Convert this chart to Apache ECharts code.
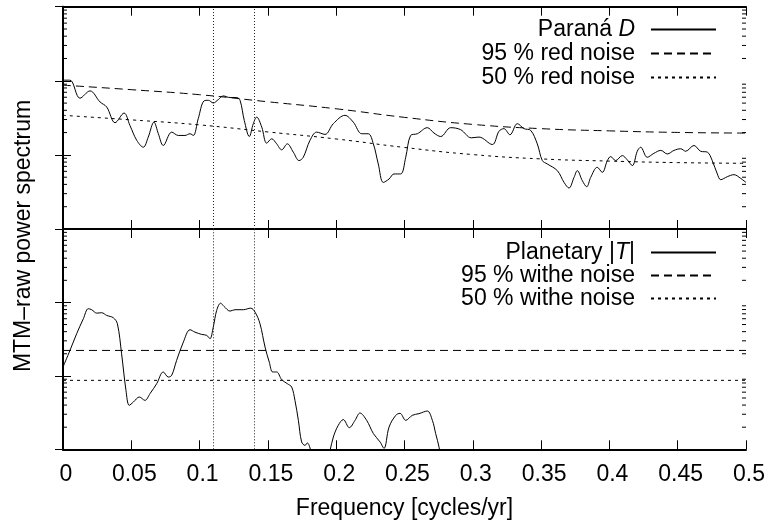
<!DOCTYPE html>
<html>
<head>
<meta charset="utf-8">
<script src="https://cdn.jsdelivr.net/npm/echarts@6/dist/echarts.min.js"></script>
<style>
  html, body { margin: 0; padding: 0; background: #fff; }
  #chart { width: 768px; height: 529px; }
</style>
</head>
<body>
<div id="chart"></div>
<script>
// Paraná D spectrum (top panel)
const paranaFreq = [0, 0.0051, 0.0124, 0.0198, 0.0271, 0.0320, 0.0381, 0.0447, 0.0490, 0.0540,
  0.0588, 0.0624, 0.0666, 0.0698, 0.0734, 0.0796, 0.0844, 0.0893, 0.0930, 0.0954,
  0.0990, 0.1032, 0.1064, 0.1100, 0.1137, 0.1173, 0.1223, 0.1272, 0.1296, 0.1327,
  0.1364, 0.1393, 0.1418, 0.1455, 0.1491, 0.1528, 0.1564, 0.1601, 0.1642, 0.1686,
  0.1728, 0.1759, 0.1808, 0.1857, 0.1918, 0.1979, 0.2064, 0.2125, 0.2187, 0.2235,
  0.2272, 0.2308, 0.2345, 0.2387, 0.2423, 0.2472, 0.2509, 0.2545, 0.2594, 0.2667,
  0.2716, 0.2765, 0.2838, 0.2911, 0.2989, 0.3045, 0.3143, 0.3192, 0.3228, 0.3272,
  0.3326, 0.3375, 0.3424, 0.3472, 0.3509, 0.3545, 0.3619, 0.3668, 0.3704, 0.3741,
  0.3765, 0.3802, 0.3834, 0.3863, 0.3911, 0.3948, 0.3985, 0.4009, 0.4046, 0.4094,
  0.4131, 0.4168, 0.4204, 0.4229, 0.4277, 0.4326, 0.4376, 0.4424, 0.4473, 0.4522,
  0.4558, 0.4619, 0.4668, 0.4717, 0.4753, 0.4790, 0.4815, 0.4863, 0.4912, 0.4961, 0.5]
const paranaPower = [102, 102, 58.2, 73.1, 51.8, 44.3, 27.2, 36.7, 25.0, 15.7,
  12.7, 17.4, 27.7, 19.3, 13.4, 20.3, 18.3, 18.3, 19.3, 18.3,
  30.8, 53.5, 54.6, 50.2, 55.8, 62.5, 59.4, 59.4, 54.6, 29.2,
  17.7, 26.4, 32.4, 23.7, 14.4, 16.5, 14.1, 11.7, 14.1, 10.9,
  8.38, 9.29, 15.7, 20.3, 18.9, 26.4, 34.2, 27.7, 19.3, 19.3,
  14.1, 7.55, 4.25, 4.73, 5.53, 5.53, 9.29, 18.3, 19.3, 23.3,
  19.7, 17.7, 23.3, 21.9, 17.0, 17.4, 13.8, 20.9, 22.6, 18.7,
  26.4, 22.6, 21.4, 14.1, 8.38, 7.55, 6.13, 4.25, 3.57, 4.97,
  6.13, 4.48, 3.72, 4.97, 6.80, 5.81, 8.38, 9.49, 8.38, 9.79,
  8.56, 7.17, 11.2, 12.7, 9.29, 10.5, 11.5, 10.3, 11.5, 12.1,
  11.2, 13.4, 11.2, 10.9, 8.38, 5.53, 4.63, 5.08, 5.41, 4.82, 4.25]

// red noise levels
const redFreq = [0, 0.05, 0.1, 0.15, 0.2, 0.25, 0.3, 0.35, 0.4, 0.45, 0.5]
const red95 = [87.3, 75.9, 64.9, 52.1, 41.9, 32.1, 25.8, 22.6, 21.1, 20.1, 19.7]
const red50 = [34.2, 29.7, 25.4, 20.4, 16.4, 12.6, 10.1, 8.83, 8.25, 7.87, 7.70]

// Planetary |T| spectrum (bottom panel)
const planetFreq = [0, 0.0051, 0.0100, 0.0149, 0.0185, 0.0210, 0.0247, 0.0283, 0.0320, 0.0368,
  0.0398, 0.0429, 0.0461, 0.0485, 0.0515, 0.0559, 0.0600, 0.0637, 0.0686, 0.0734,
  0.0771, 0.0796, 0.0832, 0.0881, 0.0930, 0.0966, 0.1015, 0.1052, 0.1076, 0.1100,
  0.1125, 0.1154, 0.1179, 0.1223, 0.1259, 0.1320, 0.1374, 0.1406, 0.1442, 0.1479,
  0.1510, 0.1535, 0.1564, 0.1601, 0.1642, 0.1674, 0.1698, 0.1723, 0.1747, 0.1772,
  0.1788, 0.1813, 0.1830, 0.1918, 0.1955, 0.1979, 0.2015, 0.2052, 0.2096, 0.2138,
  0.2174, 0.2223, 0.2272, 0.2321, 0.2350, 0.2387, 0.2436, 0.2467, 0.2509, 0.2557,
  0.2606, 0.2667, 0.2704, 0.2728, 0.2753, 0.2775]
const planetPower = [13.2, 22.2, 37.5, 60.0, 82.1, 79.6, 71.5, 72.4, 66.5, 61.9,
  51.3, 20.0, 6.35, 3.97, 4.40, 5.15, 4.64, 5.73, 7.83, 11.3,
  9.63, 10.2, 16.3, 28.8, 42.5, 39.4, 36.7, 35.6, 32.1, 46.1,
  77.9, 97.8, 88.2, 76.2, 79.6, 79.6, 83.6, 73.8, 51.3, 24.7,
  15.4, 11.3, 11.3, 8.88, 7.83, 7.04, 4.64, 2.48, 1.26, 1.13,
  1.22, 0.97, 0.6, 0.6, 0.97, 1.47, 2.12, 2.54, 1.97, 2.48,
  3.12, 2.48, 1.64, 1.26, 1.03, 2.01, 2.90, 3.09, 2.48, 2.90,
  3.06, 3.32, 2.48, 1.64, 1.07, 0.6]

// white noise levels
const white95 = 22.2
const white50 = 8.69

// marked frequencies (vertical dotted lines)
const markFreqs = [0.109, 0.141]

const FONT = '"Liberation Sans", Arial, sans-serif'
const FS = 23

const zip = (xs, ys) => xs.map((x, i) => [x, ys[i]])

// minor log ticks 2..9 per decade
const minorTicks = []
for (let k = 0; k < 3; k++) {
  for (let m = 2; m <= 9; m++) minorTicks.push(m * Math.pow(10, k))
}

const myChart = echarts.init(document.getElementById('chart'))

const xAxisBase = (gridIndex, position, showLabel) => ({
  type: 'value',
  gridIndex,
  position,
  min: 0,
  max: 0.5,
  interval: 0.05,
  axisLine: { show: true, onZero: false, lineStyle: { color: '#000', width: 2 } },
  axisTick: { show: true, inside: true, length: 9, lineStyle: { color: '#000', width: 1 } },
  axisLabel: {
    show: showLabel,
    margin: 14,
    padding: [0, 0, 0, 6],
    color: '#000',
    fontSize: FS,
    fontFamily: FONT
  },
  splitLine: { show: false }
})

const yAxisBase = (gridIndex, position) => ({
  type: 'log',
  logBase: 10,
  gridIndex,
  position,
  min: 1,
  max: 1000,
  axisLine: { show: true, lineStyle: { color: '#000', width: 2 } },
  axisTick: { show: true, inside: true, length: 8, lineStyle: { color: '#000', width: 1 } },
  axisLabel: { show: false },
  splitLine: { show: false }
})

const minorTickSeries = (axisIdx) => ({
  type: 'custom',
  xAxisIndex: axisIdx,
  yAxisIndex: axisIdx,
  silent: true,
  clip: false,
  data: minorTicks.map(v => [0, v]),
  encode: { x: 0, y: 1 },
  renderItem: (params, api) => {
    const y = api.coord([0, api.value(1)])[1]
    const left = params.coordSys.x
    const right = left + params.coordSys.width
    const style = { stroke: '#000', lineWidth: 1 }
    return {
      type: 'group',
      children: [
        { type: 'line', shape: { x1: left, y1: y, x2: left + 4, y2: y }, style },
        { type: 'line', shape: { x1: right - 4, y1: y, x2: right, y2: y }, style }
      ]
    }
  }
})

const markLines = {
  silent: true,
  symbol: 'none',
  label: { show: false },
  lineStyle: { color: '#222', width: 1, type: [1, 2] },
  data: markFreqs.map(f => ({ xAxis: f }))
}

const lineSeries = (name, data, axisIdx, type, extra) => Object.assign({
  name,
  type: 'line',
  xAxisIndex: axisIdx,
  yAxisIndex: axisIdx,
  data,
  symbol: 'none',
  showSymbol: false,
  smooth: false,
  lineStyle: { color: '#000', width: 1, type },
  itemStyle: { color: '#000' }
}, extra || {})

const legendItem = (name, top) => ({
  data: [name],
  right: 51,
  top,
  padding: 0,
  align: 'right',
  itemWidth: 65,
  itemHeight: 14,
  selectedMode: false,
  itemStyle: { opacity: 0 },
  textStyle: {
    color: '#000',
    fontSize: FS,
    fontFamily: FONT,
    padding: [0, 11, 0, 0],
    rich: { i: { fontStyle: 'italic', fontSize: FS, fontFamily: FONT, color: '#000' } }
  },
  formatter: n => {
    if (n === 'Paraná D') return 'Paraná {i|D}'
    if (n === 'Planetary |T|') return 'Planetary |{i|T}|'
    return n
  }
})

const option = {
  animation: false,
  backgroundColor: '#fff',
  grid: [
    { left: 63, top: 6.7, width: 683, height: 222.3 },
    { left: 63, top: 229, width: 683, height: 220.3 }
  ],
  xAxis: [
    xAxisBase(0, 'bottom', false),
    xAxisBase(0, 'top', false),
    Object.assign(xAxisBase(1, 'bottom', true), {
      name: 'Frequency [cycles/yr]',
      nameLocation: 'middle',
      nameGap: 48,
      nameTextStyle: { color: '#000', fontSize: FS, fontFamily: FONT }
    }),
    xAxisBase(1, 'top', false)
  ],
  yAxis: [
    yAxisBase(0, 'left'),
    yAxisBase(0, 'right'),
    yAxisBase(1, 'left'),
    yAxisBase(1, 'right')
  ],
  legend: [
    legendItem('Paraná D', 18),
    legendItem('95 % red noise', 42),
    legendItem('50 % red noise', 66),
    legendItem('Planetary |T|', 241),
    legendItem('95 % withe noise', 264),
    legendItem('50 % withe noise', 287)
  ],
  graphic: [{
    type: 'text',
    x: 24,
    y: 236,
    rotation: Math.PI / 2,
    silent: true,
    style: {
      text: 'MTM–raw power spectrum',
      font: FS + 'px ' + FONT,
      fill: '#000',
      align: 'center',
      verticalAlign: 'middle'
    }
  }],
  series: [
    minorTickSeries(0),
    minorTickSeries(2),
    lineSeries('Paraná D', zip(paranaFreq, paranaPower), 0, 'solid', { smooth: 0.35, markLine: markLines, z: 3 }),
    lineSeries('95 % red noise', zip(redFreq, red95), 0, [8, 5], { smooth: true }),
    lineSeries('50 % red noise', zip(redFreq, red50), 0, [3, 4], { smooth: true }),
    lineSeries('Planetary |T|', zip(planetFreq, planetPower), 2, 'solid', { smooth: 0.35, markLine: markLines, z: 3 }),
    lineSeries('95 % withe noise', [[0, white95], [0.5, white95]], 2, [8, 5]),
    lineSeries('50 % withe noise', [[0, white50], [0.5, white50]], 2, [3, 4])
  ]
}

myChart.setOption(option)
</script>
</body>
</html>
